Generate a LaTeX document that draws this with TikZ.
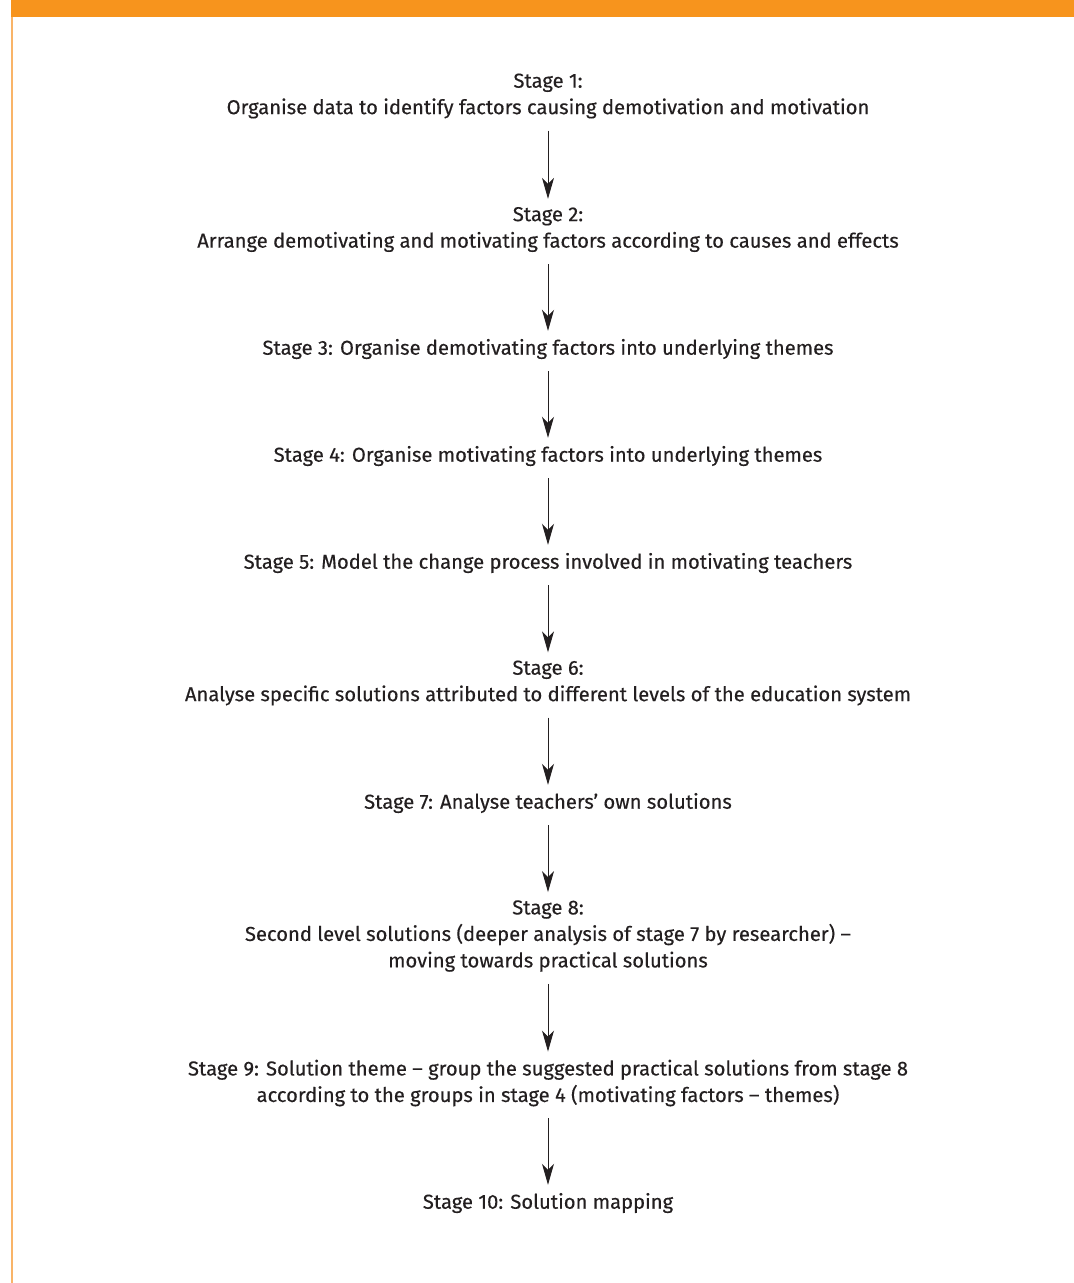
\documentclass[tikz,border=0pt]{standalone}
\usepackage{fontspec}
\setmainfont[FakeBold=0.35]{Fira Sans}
\usetikzlibrary{arrows.meta}
\definecolor{barorange}{HTML}{F7941D}
\definecolor{edgeorange}{HTML}{F9B468}
\definecolor{ink}{HTML}{231F20}
\tikzset{
  stagebox/.style={align=center, inner sep=0pt, text=ink,
    font=\fontsize{20.2}{26.5}\selectfont},
  flow/.style={draw=ink, line width=0.9pt,
    -{Stealth[length=21pt,width=12pt,inset=6pt]},
    shorten <=12pt, shorten >=8pt}
}
\begin{document}
\begin{tikzpicture}[x=1pt,y=1pt]
\useasboundingbox (0,0) rectangle (1074,-1283);
% frame: orange header band and thin left rule
\fill[barorange] (11,0) rectangle (1074,-17);
\fill[edgeorange] (11,-17) rectangle (13,-1283);

\node[stagebox] (s1) at (548,-96) {Stage 1:\\Organise data to identify factors causing demotivation and motivation};
\node[stagebox] (s2) at (548,-229.5) {Stage 2:\\Arrange demotivating and motivating factors according to causes and effects};
\node[stagebox] (s3) at (548,-349) {Stage 3: Organise demotivating factors into underlying themes};
\node[stagebox] (s4) at (548,-456) {Stage 4: Organise motivating factors into underlying themes};
\node[stagebox] (s5) at (548,-563) {Stage 5: Model the change process involved in motivating teachers};
\node[stagebox] (s6) at (548,-683) {Stage 6:\\Analyse specific solutions attributed to different levels of the education system};
\node[stagebox] (s7) at (548,-803) {Stage 7: Analyse teachers’ own solutions};
\node[stagebox] (s8) at (548,-936) {Stage 8:\\Second level solutions (deeper analysis of stage 7 by researcher) –\\moving towards practical solutions};
\node[stagebox] (s9) at (548,-1083) {Stage 9: Solution theme – group the suggested practical solutions from stage 8\\according to the groups in stage 4 (motivating factors – themes)};
\node[stagebox] (s10) at (548,-1203) {Stage 10: Solution mapping};

\foreach \a/\b in {s1/s2,s2/s3,s3/s4,s4/s5,s5/s6,s6/s7,s7/s8,s8/s9,s9/s10}
  \draw[flow] (\a) -- (\b);
\end{tikzpicture}
\end{document}
